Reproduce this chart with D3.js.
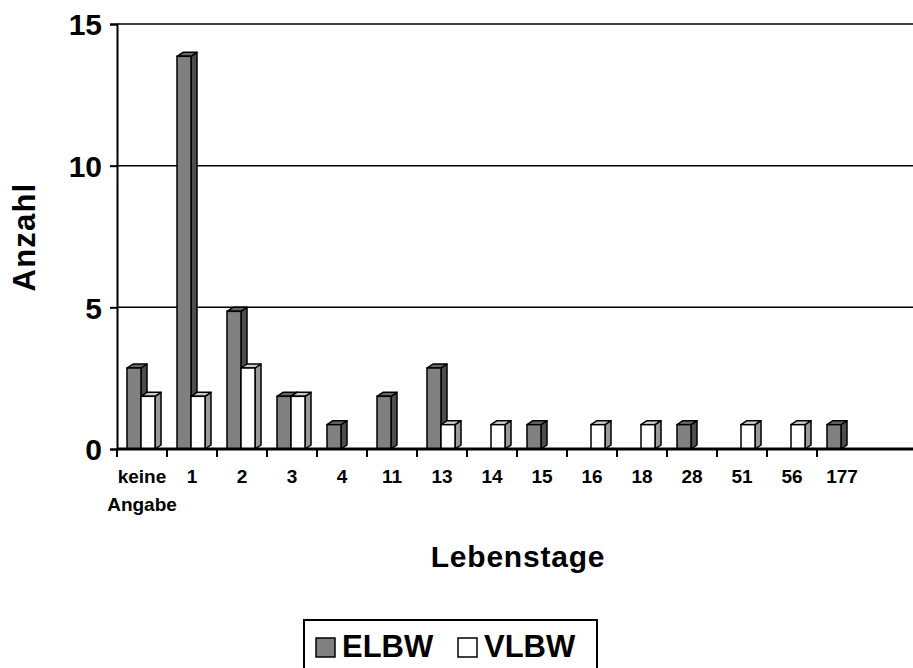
<!DOCTYPE html>
<html>
<head>
<meta charset="utf-8">
<script src="https://cdn.jsdelivr.net/npm/d3@7"></script>
<style>
  body { margin: 0; background: #fff; }
  text { font-family: "Liberation Sans", Arial, sans-serif; font-weight: bold; fill: #000; }
</style>
</head>
<body>
<div id="chart"></div>
<script>
// Lebenstage categories (last slot is empty on the axis)
const categories = ['keine Angabe', '1', '2', '3', '4', '11', '13', '14', '15', '16', '18', '28', '51', '56', '177', ''];
const elbw = [3, 14, 5, 2, 1, 2, 3, 0, 1, 0, 0, 1, 0, 0, 1, 0];
const vlbw = [2, 2, 3, 2, 0, 0, 1, 1, 0, 1, 1, 0, 1, 1, 0, 0];
const seriesNames = ['ELBW', 'VLBW'];
const yTicks = [0, 5, 10, 15];

const width = 913, height = 668;
const plotLeft = 117, plotRight = 917, plotTop = 24, plotBottom = 449;
const dx = 6, dy = 4;

const colors = {
  ELBW: { front: '#808080', top: '#666666', side: '#4d4d4d' },
  VLBW: { front: '#ffffff', top: '#cccccc', side: '#999999' }
};

const svg = d3.select('#chart').append('svg')
  .attr('width', width)
  .attr('height', height);

const x = d3.scaleBand().domain(categories).range([plotLeft, plotRight]);
const x1 = d3.scaleBand().domain(seriesNames).range([10, 38]);
const y = d3.scaleLinear().domain([0, 15]).range([plotBottom, plotTop]);

// gridlines
svg.append('g')
  .selectAll('line')
  .data(yTicks.filter(d => d > 0))
  .enter()
  .append('line')
  .attr('x1', plotLeft).attr('x2', width)
  .attr('y1', d => y(d)).attr('y2', d => y(d))
  .attr('stroke', '#000')
  .attr('stroke-width', 1.5);

// y axis
const yAxis = svg.append('g')
  .attr('transform', 'translate(' + plotLeft + ',0)')
  .call(d3.axisLeft(y).tickValues(yTicks).tickSize(7).tickPadding(8));
yAxis.select('.domain').attr('stroke-width', 2);
yAxis.selectAll('.tick line').attr('stroke-width', 2);
yAxis.selectAll('.tick text')
  .style('font-size', '30px')
  .attr('dy', '0.36em');

// bars
const rows = categories.map((c, i) => ({ cat: c, values: [elbw[i], vlbw[i]] }));

const group = svg.append('g')
  .selectAll('g')
  .data(rows)
  .enter()
  .append('g')
  .attr('transform', d => 'translate(' + x(d.cat) + ',0)');

const bar = group.selectAll('g')
  .data(d => d.values.map((v, j) => ({ name: seriesNames[j], value: v })).filter(b => b.value > 0))
  .enter()
  .append('g');

const bw = x1.bandwidth();

bar.append('path')
  .attr('fill', d => colors[d.name].side)
  .attr('stroke', '#000')
  .attr('stroke-width', 1.5)
  .attr('stroke-linejoin', 'round')
  .attr('d', d => {
    const x0 = x1(d.name) + bw, yt = y(d.value);
    return 'M' + x0 + ',' + (yt + dy) + 'L' + (x0 + dx) + ',' + yt +
      'L' + (x0 + dx) + ',' + (plotBottom - dy) + 'L' + x0 + ',' + plotBottom + 'Z';
  });

bar.append('path')
  .attr('fill', d => colors[d.name].top)
  .attr('stroke', '#000')
  .attr('stroke-width', 1.5)
  .attr('stroke-linejoin', 'round')
  .attr('d', d => {
    const x0 = x1(d.name), yt = y(d.value);
    return 'M' + x0 + ',' + (yt + dy) + 'L' + (x0 + dx) + ',' + yt +
      'L' + (x0 + bw + dx) + ',' + yt + 'L' + (x0 + bw) + ',' + (yt + dy) + 'Z';
  });

bar.append('rect')
  .attr('fill', d => colors[d.name].front)
  .attr('stroke', '#000')
  .attr('stroke-width', 1.5)
  .attr('x', d => x1(d.name))
  .attr('y', d => y(d.value) + dy)
  .attr('width', bw)
  .attr('height', d => plotBottom - y(d.value) - dy);

// x axis
svg.append('line')
  .attr('x1', plotLeft).attr('x2', width)
  .attr('y1', plotBottom).attr('y2', plotBottom)
  .attr('stroke', '#000')
  .attr('stroke-width', 3);

svg.append('g')
  .selectAll('line')
  .data(categories.slice(0, -1))
  .enter()
  .append('line')
  .attr('x1', d => x(d)).attr('x2', d => x(d))
  .attr('y1', plotBottom).attr('y2', plotBottom + 8)
  .attr('stroke', '#000')
  .attr('stroke-width', 2);

svg.append('g')
  .selectAll('text')
  .data(categories)
  .enter()
  .append('text')
  .attr('text-anchor', 'middle')
  .style('font-size', '19px')
  .attr('transform', d => 'translate(' + (x(d) + x.bandwidth() / 2) + ',483)')
  .selectAll('tspan')
  .data(d => d.split(' '))
  .enter()
  .append('tspan')
  .attr('x', 0)
  .attr('y', (d, i) => i * 28)
  .text(d => d);

// axis titles
svg.append('text')
  .attr('text-anchor', 'middle')
  .style('font-size', '31px')
  .style('letter-spacing', '1.2px')
  .attr('transform', 'translate(35,237) rotate(-90)')
  .text('Anzahl');

svg.append('text')
  .attr('x', 518)
  .attr('y', 567)
  .attr('text-anchor', 'middle')
  .style('font-size', '30px')
  .style('letter-spacing', '0.8px')
  .text('Lebenstage');

// legend
const legend = svg.append('g');
legend.append('rect')
  .attr('x', 304).attr('y', 620)
  .attr('width', 293).attr('height', 60)
  .attr('fill', '#fff')
  .attr('stroke', '#000')
  .attr('stroke-width', 2);

const legendItem = legend.selectAll('g')
  .data(seriesNames)
  .enter()
  .append('g')
  .attr('transform', (d, i) => 'translate(' + (316 + i * 142) + ',638)');

legendItem.append('rect')
  .attr('width', 19).attr('height', 19)
  .attr('fill', d => colors[d].front)
  .attr('stroke', '#000')
  .attr('stroke-width', 1.5);

legendItem.append('text')
  .attr('x', 26)
  .attr('y', 19)
  .style('font-size', '31px')
  .text(d => d);
</script>
</body>
</html>
